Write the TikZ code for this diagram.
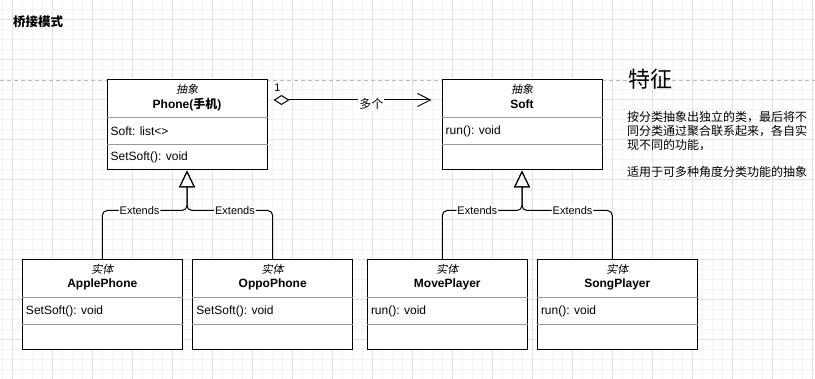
\documentclass[tikz,border=0pt]{standalone}
\usepackage{fontspec}
\setmainfont{Liberation Sans}
\newfontfamily\cjk{Noto Sans CJK SC}
\newfontfamily\cjkit[FakeSlant=0.2]{Noto Sans CJK SC}
\usetikzlibrary{arrows.meta}
\definecolor{gridmajor}{HTML}{E2E2E2}
\definecolor{gridminor}{HTML}{F3F3F3}
\definecolor{splitgray}{HTML}{999999}
\definecolor{guidegray}{HTML}{BBBBBB}

\begin{document}
\begin{tikzpicture}[x=1pt,y=-1pt,
  classbox/.style={draw,line width=1pt,fill=white,minimum width=160pt,minimum height=90pt,inner sep=0pt},
  split/.style={draw=splitgray,line width=1pt},
  kind/.style={inner sep=0pt,font=\fontsize{11}{12}\selectfont\cjkit},
  cname/.style={inner sep=0pt,font=\fontsize{12}{14}\selectfont\bfseries},
  member/.style={anchor=west,inner sep=0pt,font=\fontsize{12}{14}\selectfont},
  inherit/.style={line width=1pt,rounded corners=5pt,-{Triangle[open,length=17pt,width=16pt]}},
  agg/.style={line width=1pt,{Diamond[open,length=16pt,width=10pt]}-{Straight Barb[length=13pt,width=13pt]}},
  lbl/.style={fill=white,inner sep=1pt,font=\fontsize{11}{12}\selectfont},
]
  \useasboundingbox (0,0) rectangle (815,379);
  \fill[white] (0,0) rectangle (815,379);

  % background grid
  \foreach \x in {2.7,12.7,...,812.7} \draw[gridminor,line width=1pt] (\x,0) -- (\x,379);
  \foreach \y in {0,10,...,370} \draw[gridminor,line width=1pt] (0,\y) -- (815,\y);
  \foreach \x in {12.7,52.7,...,812.7} \draw[gridmajor,line width=1pt] (\x,0) -- (\x,379);
  \foreach \y in {20,60,...,340} \draw[gridmajor,line width=1pt] (0,\y) -- (815,\y);
  \draw[guidegray,dashed,dash pattern=on 4pt off 3pt] (0,80) -- (815,80);

  \node[anchor=west,inner sep=0pt,font=\fontsize{12.5}{14}\selectfont\bfseries\cjk] (title) at (13,22) {桥接模式};

  % abstract side
  \node[classbox] (phone) at (187,125) {};
  \draw[split] ([yshift=-38pt]phone.north west) -- ([yshift=-38pt]phone.north east);
  \draw[split] ([yshift=-65pt]phone.north west) -- ([yshift=-65pt]phone.north east);
  \node[kind] (phone-kind) at ([yshift=-10pt]phone.north) {抽象};
  \node[cname] (phone-name) at ([yshift=-25pt]phone.north) {Phone({\cjk 手机})};
  \node[member] (phone-attr) at ([shift={(4pt,-52pt)}]phone.north west) {Soft: list<>};
  \node[member] (phone-op) at ([shift={(4pt,-78pt)}]phone.north west) {SetSoft(): void};

  \node[classbox] (soft) at (522,125) {};
  \draw[split] ([yshift=-38pt]soft.north west) -- ([yshift=-38pt]soft.north east);
  \draw[split] ([yshift=-65pt]soft.north west) -- ([yshift=-65pt]soft.north east);
  \node[kind] (soft-kind) at ([yshift=-10pt]soft.north) {抽象};
  \node[cname] (soft-name) at ([yshift=-25pt]soft.north) {Soft};
  \node[member] (soft-op) at ([shift={(4pt,-52pt)}]soft.north west) {run(): void};

  % concrete side
  \node[classbox] (apple) at (102.3,305) {};
  \draw[split] ([yshift=-38pt]apple.north west) -- ([yshift=-38pt]apple.north east);
  \draw[split] ([yshift=-65pt]apple.north west) -- ([yshift=-65pt]apple.north east);
  \node[kind] (apple-kind) at ([yshift=-10pt]apple.north) {实体};
  \node[cname] (apple-name) at ([yshift=-25pt]apple.north) {ApplePhone};
  \node[member] (apple-op) at ([shift={(4pt,-52pt)}]apple.north west) {SetSoft(): void};

  \node[classbox] (oppo) at (272.7,305) {};
  \draw[split] ([yshift=-38pt]oppo.north west) -- ([yshift=-38pt]oppo.north east);
  \draw[split] ([yshift=-65pt]oppo.north west) -- ([yshift=-65pt]oppo.north east);
  \node[kind] (oppo-kind) at ([yshift=-10pt]oppo.north) {实体};
  \node[cname] (oppo-name) at ([yshift=-25pt]oppo.north) {OppoPhone};
  \node[member] (oppo-op) at ([shift={(4pt,-52pt)}]oppo.north west) {SetSoft(): void};

  \node[classbox] (moveplayer) at (447.3,305) {};
  \draw[split] ([yshift=-38pt]moveplayer.north west) -- ([yshift=-38pt]moveplayer.north east);
  \draw[split] ([yshift=-65pt]moveplayer.north west) -- ([yshift=-65pt]moveplayer.north east);
  \node[kind] (moveplayer-kind) at ([yshift=-10pt]moveplayer.north) {实体};
  \node[cname] (moveplayer-name) at ([yshift=-25pt]moveplayer.north) {MovePlayer};
  \node[member] (moveplayer-op) at ([shift={(4pt,-52pt)}]moveplayer.north west) {run(): void};

  \node[classbox] (songplayer) at (617.3,305) {};
  \draw[split] ([yshift=-38pt]songplayer.north west) -- ([yshift=-38pt]songplayer.north east);
  \draw[split] ([yshift=-65pt]songplayer.north west) -- ([yshift=-65pt]songplayer.north east);
  \node[kind] (songplayer-kind) at ([yshift=-10pt]songplayer.north) {实体};
  \node[cname] (songplayer-name) at ([yshift=-25pt]songplayer.north) {SongPlayer};
  \node[member] (songplayer-op) at ([shift={(4pt,-52pt)}]songplayer.north west) {run(): void};

  % generalisation
  \draw[inherit] (apple.north) |- ([yshift=-40pt]phone.south) node[lbl,pos=0.72] {Extends} -- (phone.south);
  \draw[inherit] (oppo.north) |- ([yshift=-40pt]phone.south) node[lbl,pos=0.72] {Extends} -- (phone.south);
  \draw[inherit] ([xshift=-5pt]moveplayer.north) |- ([yshift=-40pt]soft.south) node[lbl,pos=0.72] {Extends} -- (soft.south);
  \draw[inherit] ([xshift=-5pt]songplayer.north) |- ([yshift=-40pt]soft.south) node[lbl,pos=0.72] {Extends} -- (soft.south);

  % aggregation
  \draw[agg] ([shift={(6pt,25pt)}]phone.east) -- node[lbl,pos=0.62,yshift=-4pt,font=\fontsize{12}{14}\selectfont\cjk] (many) {多个} ([shift={(-10pt,25pt)}]soft.west);
  \node[inner sep=0pt,font=\fontsize{11}{12}\selectfont] (one) at ([shift={(10pt,37pt)}]phone.east) {1};

  % notes
  \node[inner sep=0pt,font=\fontsize{22}{24}\selectfont\cjk] (feature) at (650,79) {特征};
  \node[anchor=base west,inner sep=0pt,align=left,font=\fontsize{12}{14}\selectfont\cjk] (notes) at (627,176.5)
    {按分类抽象出独立的类，最后将不\\同分类通过聚合联系起来，各自实\\现不同的功能，\\[13pt]适用于可多种角度分类功能的抽象};
\end{tikzpicture}
\end{document}
